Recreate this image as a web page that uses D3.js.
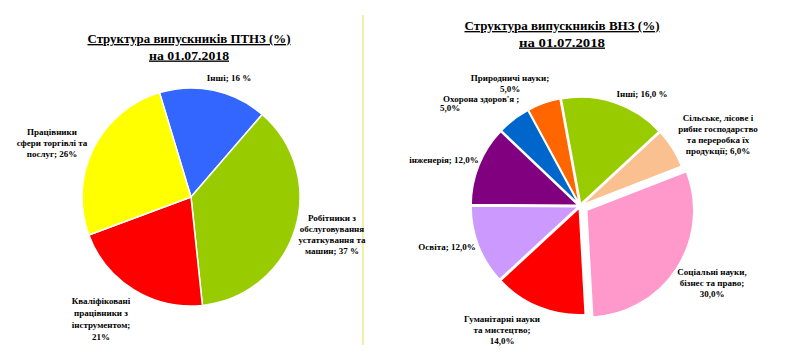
<!DOCTYPE html>
<html><head><meta charset="utf-8">
<script src="https://cdn.jsdelivr.net/npm/d3@7"></script>
<style>
html,body{margin:0;padding:0;background:#fff;}
svg{display:block;}
text{font-family:"Liberation Serif","Times New Roman",serif;fill:#000;}
.title{font-weight:bold;font-size:13.5px;text-decoration:underline;}
.lbl{font-size:9px;font-weight:bold;}
</style></head><body>
<script>
// ---- data ----
const leftTitle = ["Структура випускників ПТНЗ (%)", "на 01.07.2018"];
const leftCategories = ["Інші", "Робітники з обслуговування устаткування та машин", "Кваліфіковані працівники з інструментом", "Працівники сфери торгівлі та послуг"];
const leftValues = [16, 37, 21, 26];
const leftColors = ["#3366ff", "#99cc00", "#ff0000", "#ffff00"];
const leftLabels = [
  ["Інші; 16 %"],
  ["Робітники з", "обслуговування", "устаткування та", "машин; 37 %"],
  ["Кваліфіковані", "працівники з", "інструментом;", "21%"],
  ["Працівники", "сфери торгівлі та", "послуг; 26%"]
];

const rightTitle = ["Структура випускників ВНЗ (%)", "на 01.07.2018"];
const rightCategories = ["Інші", "Сільське, лісове і рибне господарство та переробка їх продукції", "Соціальні науки, бізнес та право", "Гуманітарні науки та мистецтво", "Освіта", "Інженерія", "Охорона здоров'я", "Природничі науки"];
const rightValues = [16, 6, 30, 14, 12, 12, 5, 5];
const rightColors = ["#99cc00", "#fac090", "#ff99cc", "#ff0000", "#cc99ff", "#800080", "#0066cc", "#ff6600"];
const rightLabels = [
  ["Інші; 16,0 %"],
  ["Сільське, лісове і", "рибне господарство", "та переробка їх", "продукції; 6,0%"],
  ["Соціальні науки,", "бізнес та право;", "30,0%"],
  ["Гуманітарні науки", "та мистецтво;", "14,0%"],
  ["Освіта; 12,0%"],
  ["інженерія; 12,0%"],
  ["Охорона здоров'я ;", "5,0%"],
  ["Природничі науки;", "5,0%"]
];

// ---- layout ----
const W = 802, H = 355;
const svg = d3.select("body").append("svg").attr("width", W).attr("height", H);

// separator
svg.append("line").attr("x1", 363).attr("x2", 363).attr("y1", 15).attr("y2", 345)
  .attr("stroke", "#f4efa6").attr("stroke-width", 2);

function drawPie(opts) {
  const g = svg.append("g");
  opts.title.forEach((t, i) => {
    g.append("text").attr("class", "title")
      .attr("x", opts.titleX).attr("y", opts.titleY + i * 16.5)
      .attr("text-anchor", "middle").text(t)
      .attr("textLength", opts.titleLen[i]).attr("lengthAdjust", "spacingAndGlyphs");
  });
  const pie = d3.pie().sort(null).value(d => d)
    .startAngle(opts.start * Math.PI / 180)
    .endAngle(opts.start * Math.PI / 180 + 2 * Math.PI);
  const arcs = pie(opts.values);
  const arc = d3.arc().innerRadius(0).outerRadius(opts.r);
  const pg = g.append("g").attr("transform", `translate(${opts.cx},${opts.cy})`);
  pg.selectAll("path").data(arcs).join("path")
    .attr("d", arc)
    .attr("fill", (d, i) => opts.colors[i])
    .attr("stroke", "#fff").attr("stroke-width", opts.strokeW)
    .attr("transform", (d, i) => {
      const e = opts.explode[i];
      const a = (d.startAngle + d.endAngle) / 2;
      return `translate(${e * Math.sin(a)},${-e * Math.cos(a)})`;
    });
  opts.labels.forEach((lines, i) => {
    const p = opts.labelPos[i];
    const t = g.append("text").attr("class", "lbl").attr("text-anchor", p[2] || "middle");
    lines.forEach((ln, j) => {
      t.append("tspan").attr("x", p[0] + (j > 0 && p[4] ? p[4] : 0)).attr("y", p[1] + j * (p[3] || 11)).text(ln);
    });
  });
}

drawPie({
  title: leftTitle, titleX: 189, titleY: 43, titleLen: [203, 80],
  values: leftValues, colors: leftColors, labels: leftLabels,
  cx: 191, cy: 197, r: 109, start: -16.8, strokeW: 1.5,
  explode: [0, 0, 0, 0],
  labelPos: [[229, 81], [332, 221], [101, 304, "middle", 12], [52, 135]]
});

drawPie({
  title: rightTitle, titleX: 562, titleY: 30, titleLen: [195, 86],
  values: rightValues, colors: rightColors, labels: rightLabels,
  cx: 580, cy: 206, r: 107, start: -10.4, strokeW: 1.5,
  explode: [2, 2, 8, 2, 2, 2, 2, 2],
  labelPos: [[642, 97], [718, 121], [712, 275], [502, 322], [447, 250], [444, 163], [443, 102, "start", 9, -3], [510, 81, "middle", 10.5]]
});
</script>
</body></html>
